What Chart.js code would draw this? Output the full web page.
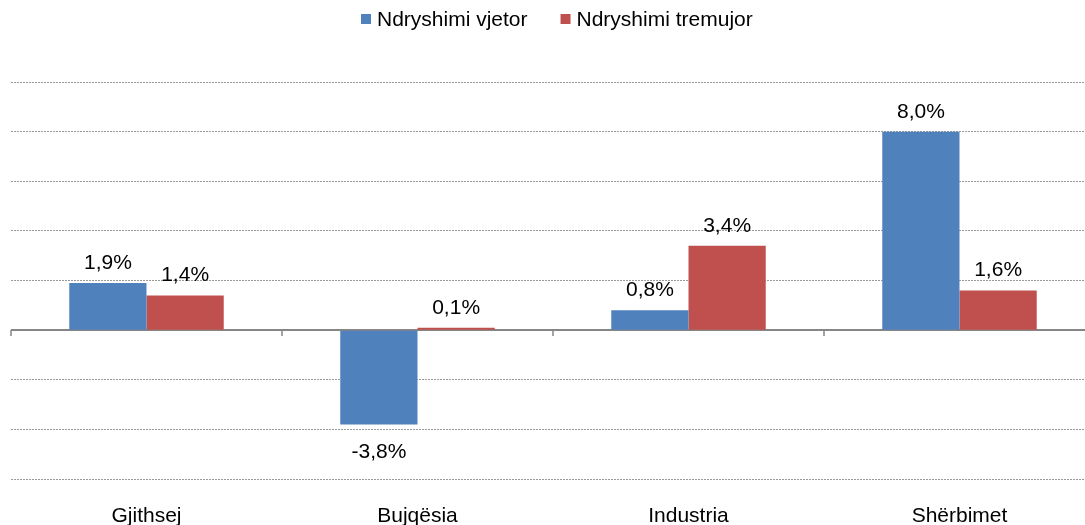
<!DOCTYPE html>
<html>
<head>
<meta charset="utf-8">
<script src="https://cdn.jsdelivr.net/npm/chart.js@4/dist/chart.umd.min.js"></script>
<style>
  html, body { margin: 0; padding: 0; background: #fff; overflow: hidden; }
  #wrap { width: 1085px; height: 525px; overflow: hidden; position: relative; }
  #c { position: absolute; left: 0; top: 0; }
</style>
</head>
<body>
<div id="wrap"><canvas id="c" width="1114" height="525" style="width:1114px;height:525px"></canvas></div>
<script>
const categories = ['Gjithsej', 'Bujqësia', 'Industria', 'Shërbimet'];
const seriesNames = ['Ndryshimi vjetor', 'Ndryshimi tremujor'];
const annualChange = [1.9, -3.8, 0.8, 8.0];
const quarterlyChange = [1.4, 0.1, 3.4, 1.6];
const yMin = -6, yMax = 10, yStep = 2;
const seriesColors = ['#4F81BD', '#C0504D'];

const FONT = '"Liberation Sans", Arial, sans-serif';
const FS = 21;

const fmt = v => v.toFixed(1).replace('.', ',') + '%';

const axisPlugin = {
  id: 'zeroAxis',
  beforeDatasetsDraw(chart) {
    const ctx = chart.ctx, x = chart.scales.x, y = chart.scales.y;
    const y0 = Math.round(y.getPixelForValue(0));
    const w = x.getPixelForValue(1) - x.getPixelForValue(0);
    ctx.save();
    ctx.strokeStyle = '#868686';
    ctx.lineWidth = 2;
    ctx.beginPath();
    ctx.moveTo(chart.chartArea.left, y0);
    ctx.lineTo(chart.chartArea.right, y0);
    ctx.stroke();
    ctx.lineWidth = 1.5;
    for (let i = 0; i <= categories.length; i++) {
      const px = Math.round(x.getPixelForValue(0) - w / 2 + i * w);
      ctx.beginPath();
      ctx.moveTo(px, y0);
      ctx.lineTo(px, y0 + 6);
      ctx.stroke();
    }
    ctx.restore();
  }
};

const labelPlugin = {
  id: 'valueLabels',
  afterDatasetsDraw(chart) {
    const ctx = chart.ctx;
    ctx.save();
    ctx.font = FS + 'px ' + FONT;
    ctx.fillStyle = '#000';
    ctx.textAlign = 'center';
    ctx.textBaseline = 'alphabetic';
    chart.data.datasets.forEach((ds, di) => {
      const meta = chart.getDatasetMeta(di);
      meta.data.forEach((bar, i) => {
        const v = ds.data[i];
        const yy = v >= 0 ? bar.y - 14 : bar.y + 34;
        ctx.fillText(fmt(v), bar.x, yy);
      });
    });
    ctx.restore();
  }
};

const legendPlugin = {
  id: 'simpleLegend',
  afterDraw(chart) {
    const ctx = chart.ctx;
    ctx.save();
    ctx.font = FS + 'px ' + FONT;
    ctx.textBaseline = 'middle';
    ctx.textAlign = 'left';
    const box = 10, gapText = 6, gapItem = 33, cy = 19;
    const ds = chart.data.datasets;
    const widths = ds.map(d => ctx.measureText(d.label).width);
    let total = 0;
    widths.forEach((w, i) => { total += box + gapText + w + (i < widths.length - 1 ? gapItem : 0); });
    let x = Math.round(557 - total / 2);
    ds.forEach((d, i) => {
      ctx.fillStyle = d.backgroundColor;
      ctx.fillRect(x, cy - box / 2, box, box);
      x += box + gapText;
      ctx.fillStyle = '#000';
      ctx.fillText(d.label, x, cy + 1);
      x += widths[i] + gapItem;
    });
    ctx.restore();
  }
};

new Chart(document.getElementById('c'), {
  type: 'bar',
  data: {
    labels: categories,
    datasets: [
      { label: seriesNames[0], data: annualChange, backgroundColor: seriesColors[0], borderWidth: 0 },
      { label: seriesNames[1], data: quarterlyChange, backgroundColor: seriesColors[1], borderWidth: 0 }
    ]
  },
  options: {
    responsive: false,
    animation: false,
    devicePixelRatio: 1,
    layout: { padding: { left: 11, right: 19, top: 0, bottom: 0 } },
    datasets: { bar: { categoryPercentage: 0.57, barPercentage: 1.0 } },
    plugins: {
      legend: { display: false },
      tooltip: { enabled: false }
    },
    scales: {
      x: {
        type: 'category',
        position: 'bottom',
        grid: { display: false, drawTicks: false },
        border: { display: false },
        ticks: { font: { family: FONT, size: FS }, color: '#000', padding: 25, maxRotation: 0 },
        afterFit(s) { s.height = 46; }
      },
      xTop: {
        type: 'category',
        position: 'top',
        labels: categories,
        grid: { display: false, drawTicks: false },
        border: { display: false },
        ticks: { display: false },
        afterFit(s) { s.height = 82; }
      },
      y: {
        min: yMin,
        max: yMax,
        ticks: { display: false, stepSize: yStep },
        grid: {
          drawTicks: false,
          color: c => (c.tick && c.tick.value === 0) ? 'rgba(0,0,0,0)' : '#9a9a9a',
          lineWidth: 1
        },
        border: { display: false, dash: [2, 1] },
        afterFit(s) { s.width = 0; }
      }
    }
  },
  plugins: [axisPlugin, labelPlugin, legendPlugin]
});
</script>
</body>
</html>
